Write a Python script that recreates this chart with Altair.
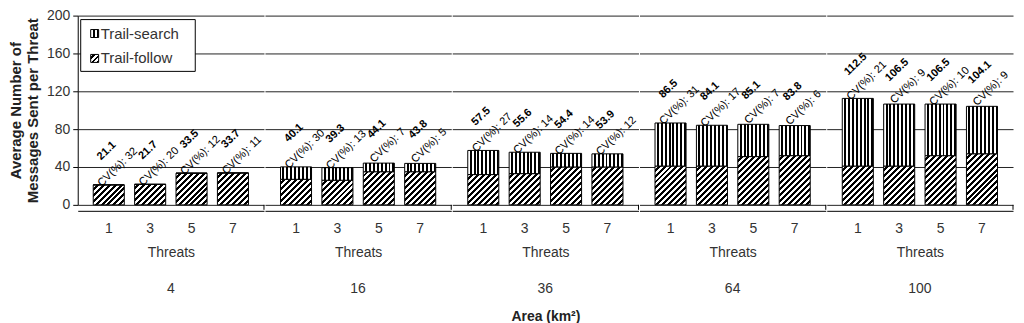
import altair as alt
import pandas as pd

# ---- data ----
areas = [4, 16, 36, 64, 100]
threats = [1, 3, 5, 7]
totals = [21.1, 21.7, 33.5, 33.7,
          40.1, 39.3, 44.1, 43.8,
          57.5, 55.6, 54.4, 53.9,
          86.5, 84.1, 85.1, 83.8,
          112.5, 106.5, 106.5, 104.1]
follow = [21.1, 21.7, 33.5, 33.7,
          27, 26, 35, 35,
          32, 33, 40, 40,
          41, 41, 51, 52,
          41, 41, 52, 54]
cv = [32, 20, 12, 11,
      30, 13, 7, 5,
      27, 14, 14, 12,
      31, 17, 7, 6,
      21, 9, 10, 9]

rows = []
for i, a in enumerate(areas):
    for j, t in enumerate(threats):
        k = i * 4 + j
        rows.append({"area": a, "threat": t, "total": totals[k], "follow": follow[k],
                     "label": f"{totals[k]:.1f}", "cvlabel": f"CV(%): {cv[k]}"})
df = pd.DataFrame(rows)

# ---- layout / style ----
PW, PH = 187, 190
BW = 31.17  # bandwidth = step * (1 - paddingInner)
FONT = "Liberation Sans"
PX = PH / 200.0
ANG = 316


def stops_list(n, black_frac=0.5):
    out = []
    for i in range(n):
        a = i / n
        m = (i + 1 - black_frac) / n
        b = (i + 1) / n
        out += [{"offset": a, "color": "white"}, {"offset": m, "color": "white"},
                {"offset": m, "color": "black"}, {"offset": b, "color": "black"}]
    return out


vert_grad = {"gradient": "linear", "x1": 0, "y1": 0, "x2": 1, "y2": 0,
             "stops": stops_list(8, 0.5)}

# diagonal stripes at 45 degrees: gradient vector scaled by bar pixel size
NDIAG = 16
HS = 6.0  # horizontal spacing of diagonal lines in px
L = NDIAG * HS
dstops = stops_list(NDIAG, 0.5)
stops_js = "[" + ",".join("{offset:%.5f,color:'%s'}" % (s["offset"], s["color"]) for s in dstops) + "]"
h = f"(datum.follow*{PX})"
den = f"({BW * BW:.3f}+{h}*{h})"
diag_expr = ("{gradient:'linear',x1:0,y1:0,x2:%s,y2:%s,stops:%s}"
             % (f"{L}*{BW}/{den}", f"{L}*{h}/{den}", stops_js))

yaxis = alt.Axis(values=[0, 40, 80, 120, 160, 200], grid=True, gridColor="#222",
                 gridWidth=1, domainColor="black", tickColor="black", tickSize=5,
                 labelFontSize=14, labelColor="#333", labelFont=FONT, labelPadding=3,
                 title=["Average Number of", "Messages Sent per Threat"],
                 titleFontSize=15, titleFont=FONT, titleFontWeight="bold",
                 titleColor="#222", titlePadding=6)
yscale = alt.Scale(domain=[0, 200], nice=False, zero=True)

xenc = alt.X("threat:O",
             scale=alt.Scale(paddingInner=0.25, paddingOuter=0.375),
             axis=alt.Axis(title="Threats", labelAngle=0, ticks=False, domainColor="black",
                           labelFontSize=14, labelColor="#333", labelFont=FONT,
                           labelPadding=11, titleFontSize=14, titleFont=FONT,
                           titleFontWeight="normal", titleColor="#333", titlePadding=10))

base = alt.Chart()

follow_bars = base.mark_bar(stroke="black", strokeWidth=1).transform_calculate(
    grad=diag_expr
).encode(
    x=xenc,
    y=alt.Y("follow:Q", scale=yscale, axis=yaxis),
    fill=alt.Fill("grad:N", scale=None),
)

search_bars = base.mark_bar(stroke="black", strokeWidth=1, fill=vert_grad).encode(
    x=xenc,
    y=alt.Y("total:Q", scale=yscale, axis=yaxis),
    y2="follow:Q",
)

val_text = base.mark_text(angle=ANG, align="center", baseline="alphabetic",
                          dx=22.2, dy=-23, fontSize=11, font=FONT,
                          fontWeight="bold", color="black").encode(
    x=xenc, y=alt.Y("total:Q", scale=yscale, axis=yaxis), text="label:N")

cv_text = base.mark_text(angle=ANG, align="center", baseline="alphabetic",
                         dx=18.8, dy=-3.5, fontSize=11, font=FONT,
                         color="black").encode(
    x=xenc, y=alt.Y("total:Q", scale=yscale, axis=yaxis), text="cvlabel:N")

sep = base.mark_rule(color="black", strokeWidth=1).transform_filter(
    alt.datum.threat == 1
).encode(x=alt.value(PW), y=alt.value(PH), y2=alt.value(PH + 5))

# legend (drawn in the first panel only)
first = (alt.datum.area == 4) & (alt.datum.threat == 1)
leg_box = base.mark_rect(fill="white", stroke="black", strokeWidth=1).transform_filter(first).encode(
    x=alt.value(3), x2=alt.value(118), y=alt.value(4), y2=alt.value(56))
leg_sym1 = base.mark_rect(fill={"gradient": "linear", "x1": 0, "y1": 0, "x2": 1, "y2": 0,
                                "stops": stops_list(2, 0.5)},
                          stroke="black", strokeWidth=1).transform_filter(first).encode(
    x=alt.value(13), x2=alt.value(21), y=alt.value(14), y2=alt.value(22))
leg_sym2 = base.mark_rect(fill={"gradient": "linear", "x1": 0, "y1": 0, "x2": 1, "y2": 1,
                                "stops": stops_list(3, 0.5)},
                          stroke="black", strokeWidth=1).transform_filter(first).encode(
    x=alt.value(13), x2=alt.value(21), y=alt.value(39), y2=alt.value(47))
leg_t1 = base.mark_text(align="left", baseline="middle", fontSize=15, font=FONT,
                        color="#333").transform_filter(first).encode(
    x=alt.value(23), y=alt.value(18), text=alt.value("Trail-search"))
leg_t2 = base.mark_text(align="left", baseline="middle", fontSize=15, font=FONT,
                        color="#333").transform_filter(first).encode(
    x=alt.value(23), y=alt.value(43), text=alt.value("Trail-follow"))

layered = alt.layer(follow_bars, search_bars, val_text, cv_text, sep,
                    leg_box, leg_sym1, leg_sym2, leg_t1, leg_t2).properties(width=PW, height=PH)

chart = layered.facet(
    data=df,
    column=alt.Column("area:O", title="Area (km²)",
                      header=alt.Header(labelOrient="bottom", titleOrient="bottom",
                                        labelFontSize=14, labelFont=FONT, labelColor="#333",
                                        labelPadding=22, titleFontSize=14, titleFont=FONT,
                                        titleFontWeight="bold", titleColor="#222",
                                        titlePadding=5)),
    spacing=0,
).properties(
    padding={"left": 0, "top": 0, "right": 2, "bottom": 0}
).configure_view(stroke=None)

chart.save("out.html", embed_options={"renderer": "svg", "actions": False})
